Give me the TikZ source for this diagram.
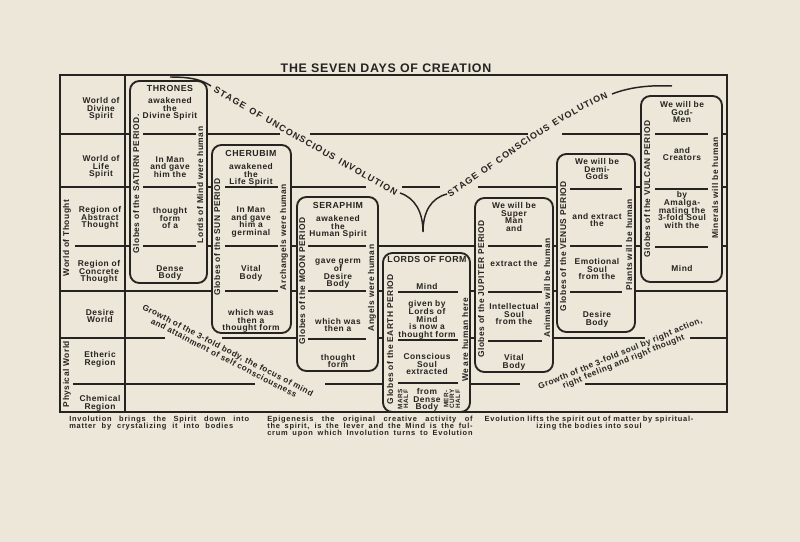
\documentclass[tikz,border=0pt]{standalone}
\usepackage{fontspec}
\setmainfont{Liberation Sans}[LetterSpace=6]
\usepackage{tikz}
\usetikzlibrary{decorations.text}
\setlength{\lineskiplimit}{-20pt}

\definecolor{paper}{RGB}{237,231,217}
\definecolor{ink}{RGB}{38,36,34}

\tikzset{
	txt/.style={text=ink, inner sep=0pt, align=center,
		font=\bfseries\fontsize{6.3}{5.8}\selectfont},
	side/.style={txt, rotate=90},
	head/.style={txt, font=\bfseries\fontsize{6.6}{6.6}\selectfont},
	tiny/.style={side, font=\bfseries\fontsize{4.8}{4.4}\selectfont},
	slant/.style={txt, font=\bfseries\fontsize{6.2}{6.4}\selectfont},
	note/.style={txt, font=\bfseries\fontsize{5.6}{5.3}\selectfont\addfontfeatures{LetterSpace=10}},
	period/.style={draw=ink, line width=1.4pt, rounded corners=7pt, fill=paper},
	rule/.style={draw=ink, line width=1.1pt},
	frame/.style={draw=ink, line width=1.6pt},
	arc/.style={draw=ink, line width=1.1pt},
	along/.style={decorate, decoration={text along path, text align={fit to path},
		text color=ink, text={|\bfseries\fontsize{6.8}{6.8}\selectfont|#1}}}
}

\begin{document}
\begin{tikzpicture}[x=0.75pt, y=-0.75pt]
	\fill[paper] (0,0) rectangle (800,542);

	\node[txt, font=\bfseries\fontsize{9.3}{10}\selectfont] (title) at (386,68) {THE SEVEN DAYS OF CREATION};

	% rows of the worlds
	\foreach \y/\a/\b in {134/60/280, 134/310/528, 134/562/727,
			187/60/366, 187/402/440, 187/478/727,
			246/75/727, 291/60/727,
			338/60/165, 338/222/645, 338/690/727,
			384/73/255, 384/325/520, 384/585/727}
		\draw[rule] (\a,\y) -- (\b,\y);

	\draw[frame] (60,75) rectangle (727,412);
	\draw[frame] (125,75) -- (125,412);

	\node[txt] (divine)   at (101,109) {World of\\Divine\\Spirit};
	\node[txt] (life)     at (101,167) {World of\\Life\\Spirit};
	\node[txt] (abstract) at (100,218) {Region of\\Abstract\\Thought};
	\node[txt] (concrete) at (99,272)  {Region of\\Concrete\\Thought};
	\node[txt] (desire)   at (100,316) {Desire\\World};
	\node[txt] (etheric)  at (100,359) {Etheric\\Region};
	\node[txt] (chemical) at (100,403) {Chemical\\Region};
	\node[side] (thought)  at (67,238) {World of Thought};
	\node[side] (physical) at (67,374) {Physical World};

	% the seven periods
	\draw[period] (130,81) rectangle (207,283);
	\draw[period] (212,145) rectangle (291,333);
	\draw[period] (297,197) rectangle (378,371);
	\draw[period] (383,253) rectangle (470,412);
	\draw[period] (475,198) rectangle (553,372);
	\draw[period] (557,154) rectangle (635,332);
	\draw[period] (641,96) rectangle (722,282);

	\foreach \y in {134,187,246} \draw[rule] (143,\y) -- (196,\y);
	\foreach \y in {187,246,291} \draw[rule] (225,\y) -- (278,\y);
	\foreach \y in {246,291,339} \draw[rule] (308,\y) -- (366,\y);
	\foreach \y in {292,340,383} \draw[rule] (398,\y) -- (458,\y);
	\foreach \y in {246,292,341} \draw[rule] (488,\y) -- (542,\y);
	\foreach \y in {189,246,292} \draw[rule] (570,\y) -- (622,\y);
	\foreach \y in {134,189,247} \draw[rule] (655,\y) -- (708,\y);

	% saturn
	\node[head] (sat0) at (170,88)  {THRONES};
	\node[txt]  (sat1) at (170,109) {awakened\\the\\Divine Spirit};
	\node[txt]  (sat2) at (170,167) {In Man\\and gave\\him the};
	\node[txt]  (sat3) at (170,218) {thought\\form\\of a};
	\node[txt]  (sat4) at (170,273) {Dense\\Body};
	\node[side] (satL) at (136,184) {Globes of the SATURN PERIOD.};
	\node[side] (satR) at (200,185) {Lords of Mind were human};

	% sun
	\node[head] (sun0) at (251,153) {CHERUBIM};
	\node[txt]  (sun1) at (251,175) {awakened\\the\\Life Spirit};
	\node[txt]  (sun2) at (251,222) {In Man\\and gave\\him a\\germinal};
	\node[txt]  (sun3) at (251,273) {Vital\\Body};
	\node[txt]  (sun4) at (251,321) {which was\\then a\\thought form};
	\node[side] (sunL) at (217,237) {Globes of the SUN PERIOD};
	\node[side] (sunR) at (284,237) {Archangels were human};

	% moon
	\node[head] (moon0) at (338,205) {SERAPHIM};
	\node[txt]  (moon1) at (338,227) {awakened\\the\\Human Spirit};
	\node[txt]  (moon2) at (338,274) {gave germ\\of\\Desire\\Body};
	\node[txt]  (moon3) at (338,325) {which was\\then a};
	\node[txt]  (moon4) at (338,361) {thought\\form};
	\node[side] (moonL) at (302,281) {Globes of the MOON PERIOD};
	\node[side] (moonR) at (372,288) {Angels were human};

	% earth
	\node[head] (earth0) at (427,259) {LORDS OF FORM};
	\node[txt]  (earth1) at (427,286) {Mind};
	\node[txt]  (earth2) at (427,320) {given by\\Lords of\\Mind\\is now a\\thought form};
	\node[txt]  (earth3) at (427,364) {Conscious\\Soul\\extracted};
	\node[txt]  (earth4) at (427,400) {from\\Dense\\Body};
	\node[side] (earthL) at (390,339) {Globes of the EARTH PERIOD};
	\node[side] (earthR) at (465,340) {We are human here};
	\node[tiny] (mars)    at (403,399) {MARS\\HALF};
	\node[tiny] (mercury) at (452,399) {MER-\\CURY\\HALF};

	% jupiter
	\node[txt]  (jup0) at (514,217) {We will be\\Super\\Man\\and};
	\node[txt]  (jup1) at (514,263) {extract the};
	\node[txt]  (jup2) at (514,314) {Intellectual\\Soul\\from the};
	\node[txt]  (jup3) at (514,362) {Vital\\Body};
	\node[side] (jupL) at (481,289) {Globes of the JUPITER PERIOD};
	\node[side] (jupR) at (547,288) {Animals will be human};

	% venus
	\node[txt]  (ven0) at (597,169) {We will be\\Demi-\\Gods};
	\node[txt]  (ven1) at (597,220) {and extract\\the};
	\node[txt]  (ven2) at (597,269) {Emotional\\Soul\\from the};
	\node[txt]  (ven3) at (597,319) {Desire\\Body};
	\node[side] (venL) at (563,246) {Globes of the VENUS PERIOD};
	\node[side] (venR) at (629,245) {Plants will be human};

	% vulcan
	\node[txt]  (vul0) at (682,112) {We will be\\God-\\Men};
	\node[txt]  (vul1) at (682,154) {and\\Creators};
	\node[txt]  (vul2) at (682,210) {by\\Amalga-\\mating the\\3-fold Soul\\with the};
	\node[txt]  (vul3) at (682,268) {Mind};
	\node[side] (vulL) at (647,189) {Globes of the VULCAN PERIOD};
	\node[side] (vulR) at (715,188) {Minerals will be human};

	% involution and evolution
	\draw[arc] (170,77) .. controls (192,77) and (202,80) .. (211,86);
	\path[along={STAGE OF UNCONSCIOUS INVOLUTION}] (213,92) -- (395,196);
	\draw[arc] (400,193) .. controls (415,198) and (423,212) .. (423,232)
		.. controls (423,212) and (431,198) .. (447,194);
	\path[along={STAGE OF CONSCIOUS EVOLUTION}] (450,197) .. controls (500,165) and (555,120) .. (608,98);
	\draw[arc] (612,94) .. controls (630,87) and (650,85) .. (672,86);

	\node[slant, rotate=-27.3] (body) at (226,354)
		{Growth of the 3-fold body, the focus of mind\\and attainment of self consciousness};
	\node[slant, rotate=22.3] (soul) at (622,358)
		{Growth of the 3-fold soul by right action,\\right feeling and right thought};

	% captions
	\node[note, align=left, anchor=north west] (inv) at (69,416)
		{\makebox[135pt][s]{Involution brings the Spirit down into}\\
		 \makebox[123pt][s]{matter by crystalizing it into bodies}};
	\node[note, align=left, anchor=north west] (epi) at (267,416)
		{\makebox[154pt][s]{Epigenesis the original creative activity of}\\
		 \makebox[154pt][s]{the spirit, is the lever and the Mind is the ful-}\\
		 \makebox[154pt][s]{crum upon which Involution turns to Evolution}};
	\node[note, align=center, anchor=north] (evo) at (589,416)
		{Evolution lifts the spirit out of matter by spiritual-\\izing the bodies into soul};
\end{tikzpicture}
\end{document}
